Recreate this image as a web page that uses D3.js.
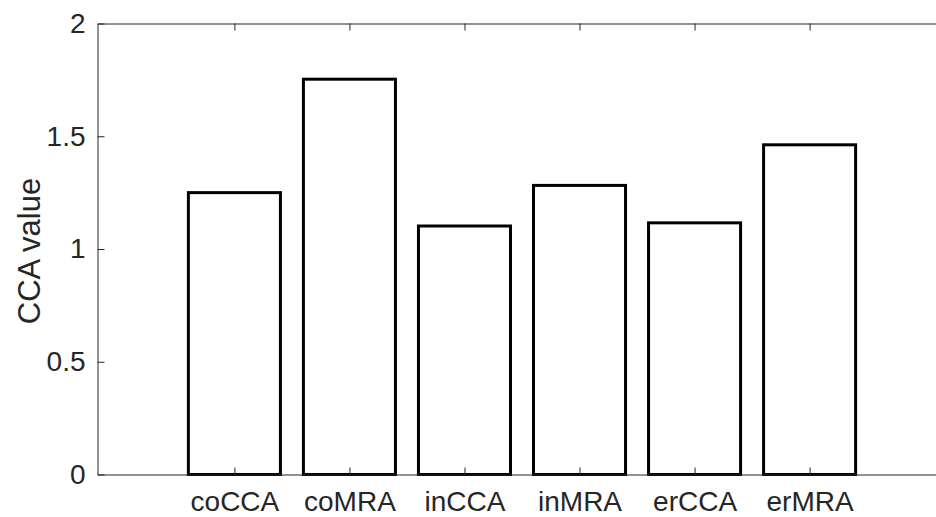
<html>
<head>
    <script src="https://d3js.org/d3.v7.min.js"></script>
    <style>
        body { margin: 0; background: #fff; }
        text { font-family: "Liberation Sans", Arial, sans-serif; fill: #262626; }
        .axis path, .axis line { stroke: #262626; stroke-width: 1; }
    </style>
</head>

<body>
    <svg width="936" height="517"></svg>

    <script>
        const width = 936, height = 517;

        // data
        const categories = ["coCCA", "coMRA", "inCCA", "inMRA", "erCCA", "erMRA"];
        const values = [1.25, 1.753, 1.102, 1.282, 1.116, 1.462];
        const yTicks = [0, 0.5, 1, 1.5, 2];
        const yTickLabels = ["0", "0.5", "1", "1.5", "2"];

        const svg = d3.select("svg");

        const x = d3.scaleLinear()
                    .domain([-0.19, 7.19])
                    .range([97.5, 946.5]);

        const y = d3.scaleLinear()
                    .domain([0, 2])
                    .range([474.5, 23.5]);

        const barWidth = (x(2) - x(1)) * 0.8;

        // bars
        svg.selectAll(".bar")
           .data(values)
           .enter().append("rect")
           .attr("class", "bar")
           .attr("x", (d, i) => x(i + 1) - barWidth / 2)
           .attr("y", d => y(d))
           .attr("width", barWidth)
           .attr("height", d => y(0) - y(d))
           .attr("fill", "#fff")
           .attr("stroke", "#000")
           .attr("stroke-width", 3);

        // bottom axis with category labels, ticks pointing inward
        const xAxis = svg.append("g")
           .attr("class", "axis")
           .attr("transform", `translate(0,${y(0)})`)
           .call(d3.axisBottom(x)
                .tickValues(d3.range(1, categories.length + 1))
                .tickFormat(d => categories[d - 1])
                .tickSize(-7)
                .tickSizeOuter(0)
                .tickPadding(17));
        xAxis.selectAll("text")
             .attr("font-size", 28)
             .attr("fill", "#262626");

        // top axis, ticks only
        svg.append("g")
           .attr("class", "axis")
           .attr("transform", `translate(0,${y(2)})`)
           .call(d3.axisTop(x)
                .tickValues(d3.range(1, categories.length + 1))
                .tickFormat("")
                .tickSize(-7)
                .tickSizeOuter(0));

        // left axis
        const yAxis = svg.append("g")
           .attr("class", "axis")
           .attr("transform", `translate(${x.range()[0]},0)`)
           .call(d3.axisLeft(y)
                .tickValues(yTicks)
                .tickFormat((d, i) => yTickLabels[i])
                .tickSize(-7)
                .tickSizeOuter(0)
                .tickPadding(12));
        yAxis.selectAll("text")
             .attr("font-size", 28)
             .attr("fill", "#262626");

        svg.selectAll(".axis").attr("font-family", null);

        // y label
        svg.append("text")
           .attr("transform", `translate(40,${(y(0) + y(2)) / 2 + 2}) rotate(-90)`)
           .attr("text-anchor", "middle")
           .attr("font-size", 31)
           .text("CCA value");
    </script>
</body>
</html>
